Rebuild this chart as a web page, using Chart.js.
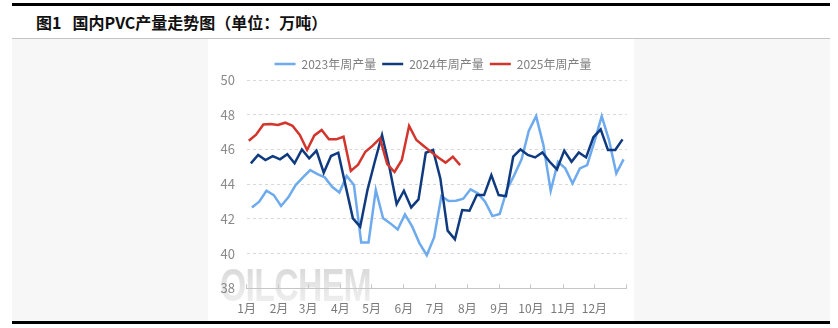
<!DOCTYPE html>
<html>
<head>
<meta charset="utf-8">
<script src="https://cdn.jsdelivr.net/npm/chart.js@4/dist/chart.umd.min.js"></script>
<style>
  html, body { margin: 0; padding: 0; background: #ffffff; }
  body { width: 838px; height: 328px; position: relative; overflow: hidden; font-family: "Noto Sans CJK SC", "Noto Sans", sans-serif; }
  #topbar { position: absolute; left: 12px; top: 3px; width: 818px; height: 3px; background: #000; }
  #title { position: absolute; left: 36px; top: 10px; font-size: 16px; font-weight: bold; color: #111; white-space: pre; }
  #title span { margin-left: 11px; }
  #panel { position: absolute; left: 12px; top: 38px; width: 818px; height: 283px; background: #f7f7f7; border-top: 1.5px solid #c4c4c4; box-sizing: border-box; }
  #white { position: absolute; left: 208px; top: 39px; width: 426px; height: 282px; background: #ffffff; }
  #wm { position: absolute; left: 220px; top: 257px; font-family: "Liberation Sans", Arial, sans-serif; font-weight: bold; font-size: 47px; letter-spacing: -1px;
        transform: scaleX(0.72); transform-origin: left top;
        background: linear-gradient(to bottom, #d2d2d2 0%, #e6e6e6 55%, #f4f4f4 100%); -webkit-background-clip: text; background-clip: text; color: transparent; }
  #bottombar { position: absolute; left: 12px; top: 321px; width: 818px; height: 3px; background: #000; }
  #wrap { position: absolute; left: 208px; top: 38px; width: 450px; height: 283px; }
</style>
</head>
<body>
<div id="topbar"></div>
<div id="title">图1<span>国内PVC产量走势图（单位：万吨）</span></div>
<div id="panel"></div>
<div id="white"></div>
<div id="wm">OILCHEM</div>
<div id="wrap"><canvas id="c" width="450" height="283"></canvas></div>
<div id="bottombar"></div>
<script>
// ---- data (weekly output, 10k tonnes) ----
const seriesNames = ['2023年周产量', '2024年周产量', '2025年周产量'];
const firstWeekDates = ['2023-01-06', '2024-01-05', '2025-01-03'];
const values2023 = [42.66,42.99,43.62,43.37,42.74,43.24,43.95,44.39,44.81,44.58,44.39,43.85,43.52,44.47,43.95,40.64,40.64,43.66,42.03,41.74,41.39,42.26,41.55,40.59,39.91,40.93,43.31,43.03,43.04,43.16,43.70,43.47,42.99,42.16,42.28,43.70,44.52,45.43,47.08,47.92,46.25,43.62,45.29,44.91,44.04,44.91,45.10,46.45,47.92,46.54,44.62,45.43];
const values2024 = [45.20,45.68,45.39,45.62,45.43,45.73,45.20,46.00,45.49,45.93,44.66,45.62,45.81,43.90,42.03,41.55,43.66,45.29,46.83,45.00,42.85,43.62,42.66,43.12,45.81,45.97,44.33,41.32,40.82,42.51,42.47,43.37,43.37,44.52,43.37,43.31,45.58,46.00,45.68,45.54,45.83,45.29,44.85,45.93,45.29,45.83,45.54,46.70,47.16,45.97,45.97,46.58];
const values2025 = [46.50,46.85,47.44,47.46,47.41,47.54,47.36,46.83,45.97,46.81,47.12,46.59,46.58,46.73,44.76,45.12,45.87,46.22,46.64,45.15,44.70,45.39,47.36,46.54,46.20,45.86,45.53,45.24,45.58,45.10];
const monthLabels = ['1月','2月','3月','4月','5月','6月','7月','8月','9月','10月','11月','12月'];
const monthStartDays = [0,31,59,90,120,151,181,212,243,273,304,334,365];
const yTicks = [38, 40, 42, 44, 46, 48, 50];

const colors = ['#6eaaee', '#0f3a7f', '#d3352c'];

function dayOfYear(s) {
  const d = new Date(s + 'T00:00:00Z');
  const start = Date.UTC(d.getUTCFullYear(), 0, 1);
  return Math.round((d.getTime() - start) / 86400000);
}
function weekly(vals, firstDate) {
  const d0 = dayOfYear(firstDate);
  return vals.map((v, i) => ({ x: d0 + 7 * i, y: v }));
}
const allValues = [values2023, values2024, values2025];

const datasets = allValues.map((vals, k) => ({
  label: seriesNames[k],
  data: weekly(vals, firstWeekDates[k]),
  borderColor: colors[k],
  backgroundColor: colors[k],
  borderWidth: 2.5,
  pointRadius: 0,
  tension: 0,
  fill: false,
  order: 3 - k
}));

const legendHeight = {
  id: 'legendHeight',
  beforeInit(chart) {
    const lg = chart.legend;
    if (!lg) return;
    const orig = lg.fit;
    lg.fit = function () { orig.bind(lg)(); this.height = 28; };
  }
};

const FONT = '"Noto Sans CJK SC", "Noto Sans", sans-serif';

new Chart(document.getElementById('c'), {
  type: 'line',
  data: { datasets },
  plugins: [legendHeight],
  options: {
    responsive: false,
    animation: false,
    layout: { padding: { top: 14, left: 0, right: 0, bottom: 0 } },
    plugins: {
      tooltip: { enabled: false },
      legend: {
        position: 'top',
        align: 'center',
        labels: {
          usePointStyle: true,
          pointStyle: 'line',
          pointStyleWidth: 21,
          boxHeight: 12,
          padding: 6,
          color: '#7f7f7f',
          font: { family: FONT, size: 12 },
          sort: (a, b) => a.datasetIndex - b.datasetIndex
        }
      }
    },
    scales: {
      x: {
        type: 'linear',
        position: 'bottom',
        min: 0,
        max: 365,
        afterBuildTicks: (s) => { s.ticks = monthStartDays.map(v => ({ value: v })); },
        afterFit: (s) => { s.height = 32.7; },
        ticks: {
          autoSkip: false,
          maxRotation: 0,
          padding: 17,
          color: '#7a7a7a',
          font: { family: FONT, size: 12 },
          callback: (v, i) => (i < monthLabels.length ? monthLabels[i] : '')
        },
        grid: { drawOnChartArea: false, drawTicks: true, tickLength: -4, color: '#c6c6c6', lineWidth: 1 },
        border: { display: true, color: '#c6c6c6', width: 1 }
      },
      y: {
        min: 38,
        max: 50,
        afterBuildTicks: (s) => { s.ticks = yTicks.map(v => ({ value: v })); },
        afterFit: (s) => { s.width = 38.7; },
        ticks: {
          padding: 11.7,
          color: '#8a8a8a',
          font: { family: FONT, size: 13 }
        },
        grid: { drawTicks: false, color: '#d8d8d8', lineWidth: 1 },
        border: { display: false, dash: [3, 3] }
      },
      y2: {
        position: 'right',
        display: true,
        afterFit: (s) => { s.width = 31.3; },
        ticks: { display: false },
        grid: { display: false, drawTicks: false },
        border: { display: false }
      }
    }
  }
});
</script>
</body>
</html>
